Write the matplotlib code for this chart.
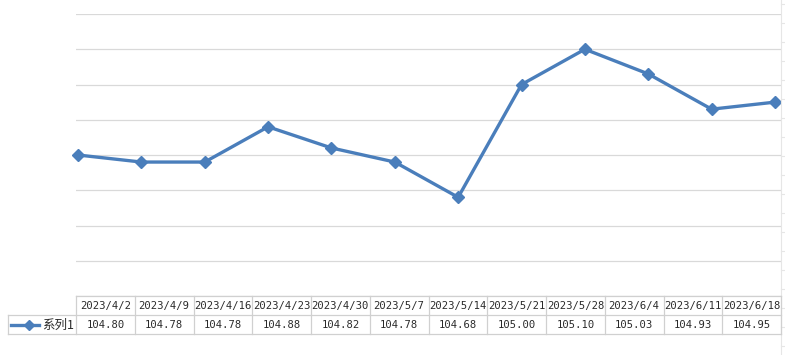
import numpy as np
import matplotlib
matplotlib.use("Agg")
import matplotlib.pyplot as plt
from matplotlib.lines import Line2D

plt.rcParams['font.family'] = ['Noto Sans CJK SC', 'DejaVu Sans']

dates = ["2023/4/2", "2023/4/9", "2023/4/16", "2023/4/23", "2023/4/30", "2023/5/7",
         "2023/5/14", "2023/5/21", "2023/5/28", "2023/6/4", "2023/6/11", "2023/6/18"]
values = [104.80, 104.78, 104.78, 104.88, 104.82, 104.78,
          104.68, 105.00, 105.10, 105.03, 104.93, 104.95]
series_name = "系列1"

W, H = 785, 355
line_color = "#4a7ebb"
grid_color = "#d9d9d9"
text_color = "#2a2a2a"
mono = ['DejaVu Sans Mono', 'Noto Sans CJK SC']

fig = plt.figure(figsize=(W / 100, H / 100), dpi=100)

# plot area in pixels
left, right, top, bottom = 76, 781, 14, 296
ax = fig.add_axes([left / W, 1 - bottom / H, (right - left) / W, (bottom - top) / H])
x = np.arange(len(values))
step = (775 - 78) / (len(values) - 1)
ax.set_xlim(-(78 - left) / step, len(values) - 1 + (right - 775) / step)
ax.set_ylim(104.4, 105.2)
ax.set_yticks(np.arange(104.4, 105.21, 0.1))
ax.grid(axis='y', color=grid_color, linewidth=0.9)
ax.set_xticks([])
ax.tick_params(axis='y', length=0, labelleft=False)
for s in ax.spines.values():
    s.set_visible(False)
ax.plot(x, values, color=line_color, linewidth=2.4, marker='D', markersize=6,
        markerfacecolor=line_color, markeredgecolor=line_color, solid_joinstyle='miter',
        clip_on=False)

# overlay for data table and frame decorations (pixel coordinates)
ov = fig.add_axes([0, 0, 1, 1])
ov.set_xlim(0, W)
ov.set_ylim(H, 0)
ov.axis('off')
ov.patch.set_alpha(0)

# faint right axis with tick marks
ov.add_line(Line2D([781, 781], [0, H], color="#e6e6e6", linewidth=0.8))
for ty in np.arange(4, H, 19):
    ov.add_line(Line2D([781, 785], [ty, ty], color="#e6e6e6", linewidth=0.8))

# data table
n = len(dates)
col_w = (right - left) / n
r0, r1, r2 = 296, 315, 334
tc = "#d0d0d0"
ov.add_line(Line2D([left, right], [r0, r0], color=tc, linewidth=0.9))
ov.add_line(Line2D([8, right], [r1, r1], color=tc, linewidth=0.9))
ov.add_line(Line2D([8, right], [r2, r2], color=tc, linewidth=0.9))
ov.add_line(Line2D([8, 8], [r1, r2], color=tc, linewidth=0.9))
for i in range(n + 1):
    cx = left + i * col_w
    ov.add_line(Line2D([cx, cx], [r0, r2], color=tc, linewidth=0.9))
for i, (d, v) in enumerate(zip(dates, values)):
    cx = left + (i + 0.5) * col_w
    ov.text(cx, (r0 + r1) / 2 + 0.5, d, ha='center', va='center', fontsize=7.6,
            color=text_color, family=mono)
    ov.text(cx, (r1 + r2) / 2 + 0.5, f"{v:.2f}", ha='center', va='center', fontsize=7.6,
            color=text_color, family=mono)

# legend key in the table
ov.add_line(Line2D([11, 39], [324.5, 324.5], color=line_color, linewidth=2.4))
ov.plot([29], [324.5], marker='D', markersize=5.5, color=line_color)
ov.text(42, 325, series_name, ha='left', va='center', fontsize=9, color=text_color)

fig.savefig("out.png", dpi=100)
